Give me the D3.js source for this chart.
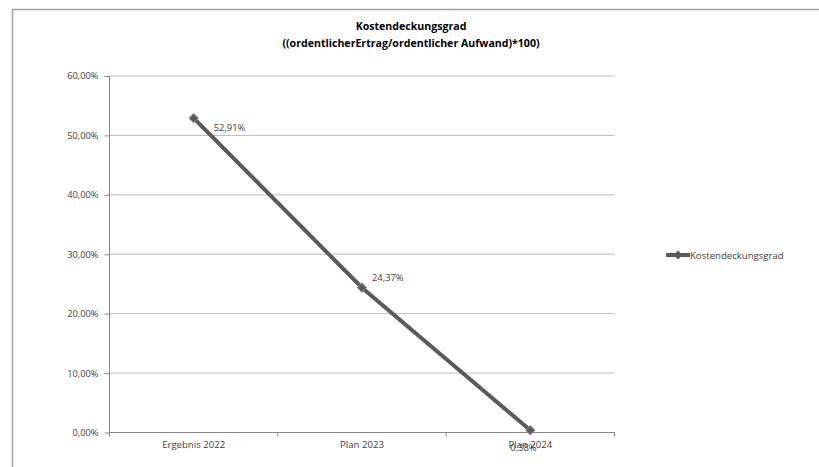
<!DOCTYPE html>
<html><head><meta charset="utf-8">
<script src="https://cdn.jsdelivr.net/npm/d3@7"></script>
<style>
body{margin:0;background:#fff;}
svg{display:block;font-family:"Open Sans","Noto Sans",sans-serif;}
</style></head>
<body>
<svg id="c" width="819" height="467"></svg>
<script>
const categories = ["Ergebnis 2022", "Plan 2023", "Plan 2024"];
const values = [52.91, 24.37, 0.38];
const valueLabels = ["52,91%", "24,37%", "0,38%"];
const yTicks = [0, 10, 20, 30, 40, 50, 60];
const seriesName = "Kostendeckungsgrad";
const titleLines = ["Kostendeckungsgrad", "((ordentlicherErtrag/ordentlicher Aufwand)*100)"];

const svg = d3.select("#c");
const plot = {left: 109.5, right: 614.5, top: 76, bottom: 432.5};
const FONT = "'Open Sans','Noto Sans',sans-serif";

// outer frame
svg.append("path").attr("d", "M12.5,467 V9.5 H819")
  .attr("fill", "none").attr("stroke", "#a0a0a0").attr("stroke-width", 1.5);

// title
const t = svg.append("text").attr("x", 411).attr("y", 30)
  .attr("text-anchor", "middle").attr("font-weight", "bold").attr("font-size", 10.6).attr("fill", "#000");
titleLines.forEach((l, i) => t.append("tspan").attr("x", 411).attr("dy", i ? 17 : 0).text(l));

const x = d3.scaleBand().domain(categories).range([plot.left, plot.right]);
const y = d3.scaleLinear().domain([0, 60]).range([plot.bottom, plot.top]);
const fmt = v => d3.format(".2f")(v).replace(".", ",") + "%";

// gridlines
svg.append("g").selectAll("line").data(yTicks.filter(d => d > 0)).join("line")
  .attr("x1", plot.left).attr("x2", plot.right)
  .attr("y1", d => y(d)).attr("y2", d => y(d))
  .attr("stroke", "#bcbcbc").attr("stroke-width", 1);

// y axis
const ya = svg.append("g").attr("transform", `translate(${plot.left},0)`)
  .call(d3.axisLeft(y).tickValues(yTicks).tickFormat(fmt).tickSize(5).tickPadding(6));
ya.selectAll("path,line").attr("stroke", "#868686");
ya.select(".domain").attr("d", `M0,${plot.top}V${plot.bottom + 4}`);
ya.selectAll("text").attr("font-size", 9.3).attr("fill", "#404040").attr("font-family", FONT);

// x axis
const xa = svg.append("g").attr("transform", `translate(0,${plot.bottom})`)
  .call(d3.axisBottom(x).tickSize(0).tickPadding(9));
xa.select(".domain").attr("stroke", "#868686").attr("d", `M${plot.left},0H${plot.right}`);
xa.selectAll("text").attr("font-size", 9.6).attr("fill", "#404040").attr("font-family", FONT);
const bounds = categories.map(c => x(c)).concat([plot.right]);
svg.append("g").selectAll("line").data(bounds.slice(1)).join("line")
  .attr("x1", d => d).attr("x2", d => d).attr("y1", plot.bottom).attr("y2", plot.bottom + 4)
  .attr("stroke", "#868686");

// line
const pts = categories.map((c, i) => [x(c) + x.bandwidth() / 2, y(values[i])]);
svg.append("path").attr("d", d3.line()(pts)).attr("fill", "none")
  .attr("stroke", "#5a5a5a").attr("stroke-width", 4);
const diamond = d3.symbol().type(d3.symbolSquare).size(40);
svg.append("g").selectAll("path").data(pts).join("path")
  .attr("transform", d => `translate(${d[0]},${d[1]}) rotate(45)`).attr("d", diamond)
  .attr("fill", "#5a5a5a").attr("stroke", "#808080").attr("stroke-width", 1);

// data labels
const labelOffsets = [[20, 13], [10, -7], [-20, 21]];
svg.append("g").selectAll("text").data(pts).join("text")
  .attr("x", (d, i) => d[0] + labelOffsets[i][0]).attr("y", (d, i) => d[1] + labelOffsets[i][1])
  .attr("font-size", 9.4).attr("fill", "#404040")
  .text((d, i) => valueLabels[i]);

// legend
const lg = svg.append("g").attr("transform", "translate(666,255)");
lg.append("line").attr("x1", 0).attr("x2", 24).attr("stroke", "#5a5a5a").attr("stroke-width", 4);
lg.append("path").attr("transform", "translate(12,0) rotate(45)").attr("d", diamond).attr("fill", "#5a5a5a");
lg.append("text").attr("x", 24).attr("y", 3.5).attr("font-size", 9.6).attr("fill", "#404040").text(seriesName);
</script>
</body></html>
